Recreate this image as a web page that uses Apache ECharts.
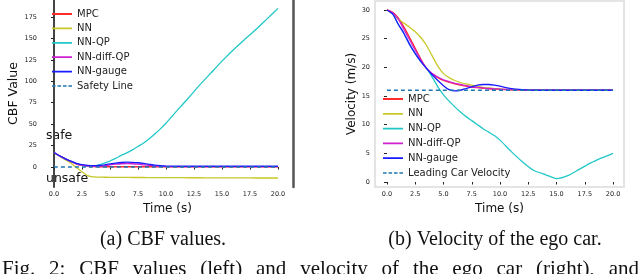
<!DOCTYPE html>
<html><head><meta charset="utf-8">
<script src="https://cdn.jsdelivr.net/npm/echarts@6/dist/echarts.min.js"></script>
<style>html,body{margin:0;padding:0;background:#fff}#c{width:640px;height:274px}</style>
</head><body><div id="c"></div>
<script>
const times = [0,0.5,1,1.5,2,2.5,3,3.5,4,4.5,5,5.5,6,6.5,7,7.5,8,8.5,9,9.5,10,11,12,13,14,15,16,17,18,19,20];
const xTicks = [0,2.5,5,7.5,10,12.5,15,17.5,20];
const cbfTicks = [0,25,50,75,100,125,150,175];
const velTicks = [0,5,10,15,20,25,30];

const cbfMPC   = [17,13,9.5,6.5,3.5,1.8,0.8,0.4,0.3,0.3,0.3,0.3,0.3,0.3,0.3,0.3,0.3,0.3,0.3,0.3,0.3,0.3,0.3,0.3,0.3,0.3,0.3,0.3,0.3,0.3,0.3];
const cbfNN    = [17,12.5,8.5,4.5,-0.5,-5.5,-10,-11.6,-11.8,-11.9,-12,-12,-12.1,-12.1,-12.2,-12.2,-12.2,-12.3,-12.3,-12.3,-12.4,-12.4,-12.5,-12.5,-12.6,-12.6,-12.7,-12.7,-12.8,-12.8,-12.8];
const cbfQP    = [17,13,9.5,6.5,4,2.2,1.2,1.2,2.5,4.5,7,10,13.5,16.5,20,24,28,33,38.5,44.5,51,66,80.5,95.5,109.5,123.5,136.5,148.5,160,172.5,185];
const cbfDiff  = [17,13,9.5,6.5,4,2.2,1.2,0.8,0.8,1.5,2.5,3.3,3.8,4,3.8,3.3,2.6,1.9,1.3,0.9,0.7,0.5,0.5,0.5,0.5,0.5,0.5,0.5,0.5,0.5,0.5];
const cbfGauge = [17,13.2,9.8,6.8,4.3,2.8,2,1.6,1.8,2.6,3.6,4.6,5.3,5.6,5.5,5,4.2,3.2,2.2,1.5,1.1,0.9,0.9,0.9,0.9,0.9,0.9,0.9,0.9,0.9,0.9];
const safetyT = [0,20];
const safetyV = [0,0];

const velMPC   = [30,29.6,28.6,27,25.2,23.3,21.4,19.8,18.8,18.2,17.7,17.4,17.1,16.9,16.7,16.55,16.45,16.35,16.25,16.2,16.15,16.05,16,16,16,16,16,16,16,16,16];
const velNN    = [30,29.3,28.4,27.7,27,26.2,25.2,23.8,22,20.2,18.9,18.2,17.7,17.35,17.1,16.9,16.7,16.5,16.4,16.3,16.2,16.1,16.05,16,16,16,16,16,16,16,16];
const velQP    = [30,29.3,27.5,25.9,24,22.4,21,19.8,18.3,16.6,15.2,14.1,13.1,12.2,11.4,10.7,10,9.3,8.7,8.1,7.3,5.3,3.5,2,1.3,0.6,1.1,2.2,3.3,4.2,5];
const velDiff  = [30,29.5,28.4,26.6,24.8,23,21.3,19.8,18.9,18.3,17.8,17.5,17.2,17,16.8,16.6,16.5,16.4,16.3,16.25,16.2,16.1,16.05,16,16,16,16,16,16,16,16];
const velGauge = [30,29.3,27.5,25.9,24,22.4,21,19.8,18.7,17.7,16.8,16.1,15.9,16,16.3,16.6,16.9,17,17,16.9,16.7,16.3,16.1,16,16,16,16,16,16,16,16];
const leadT = [0,20];
const leadV = [16,16];

const names = ['MPC','NN','NN-QP','NN-diff-QP','NN-gauge'];
const colors = ['#ff2a2a','#c8c828','#22c8c8','#d020d0','#1a1aff'];
const dashColor = '#1f77b4';
const F = 'DejaVu Sans';

const solidIcon = 'path://M0,0h0.05v0.05h-0.05z M0,4.1h20v1.8h-20z M19.95,9.95h0.05v0.05h-0.05z';
const dashIcon = 'path://M0,0h0.05v0.05h-0.05z M0,4.3h3.6v1.4h-3.6z M5.5,4.3h3.6v1.4h-3.6z M11,4.3h3.6v1.4h-3.6z M16.4,4.3h3.6v1.4h-3.6z M19.95,9.95h0.05v0.05h-0.05z';

function pairs(t, v){ return t.map((x,i)=>[x, v[i]]); }
function lineS(name, color, t, v, xi, yi, dashed){
  return {type:'line', name, xAxisIndex:xi, yAxisIndex:yi, data:pairs(t,v), symbol:'none', showSymbol:false,
    smooth:0.2, lineStyle:{color, width:1.3, type: dashed?[4,3]:'solid'}, itemStyle:{color}, animation:false};
}
const series = [];
[cbfMPC,cbfNN,cbfQP,cbfDiff,cbfGauge].forEach((v,i)=>series.push(lineS(names[i],colors[i],times,v,0,0)));
series.push(lineS('Safety Line',dashColor,safetyT,safetyV,0,0,true));
[velMPC,velNN,velQP,velDiff,velGauge].forEach((v,i)=>series.push(lineS(names[i],colors[i],times,v,1,2)));
series.push(lineS('Leading Car Velocity',dashColor,leadT,leadV,1,2,true));

const tickLbl = {fontSize:6.5, color:'#222', fontFamily:F};
const xLabel = (v)=>Number(v).toFixed(1);
const legendItems = (last)=>[...names.map(n=>({name:n, icon:solidIcon})), {name:last, icon:dashIcon}];

const serif = 'Liberation Serif';
const bottomText = 'Fig. 2: CBF values (left) and velocity of the ego car (right), and';
// justify the (cut-off) figure caption line across the page width
const bSize = 21;
const mctx = document.createElement('canvas').getContext('2d');
mctx.font = bSize + 'px "' + serif + '"';
const bWords = bottomText.split(' ');
const bWidths = bWords.map(w=>mctx.measureText(w).width);
const bL = 2, bR = 639;
const bGap = (bR - bL - bWidths.reduce((a,b)=>a+b,0)) / (bWords.length - 1);
let bx = bL;
const bottomGraphics = bWords.map((w,i)=>{ const g = {type:'text', x:bx, y:259, style:{text:w, fontSize:bSize, fontFamily:serif, fill:'#111', align:'left', verticalAlign:'top'}}; bx += bWidths[i] + bGap; return g; });

const chart = echarts.init(document.getElementById('c'), null, {renderer:'canvas'});
chart.setOption({
  animation:false,
  backgroundColor:'#fff',
  grid:[
    {left:42, top:0, width:251, height:187, show:false},
    {left:375, top:1, width:249, height:186, show:true, borderColor:'#e4e4e4', borderWidth:2, backgroundColor:'#fff'}
  ],
  xAxis:[
    {type:'value', gridIndex:0, min:-1.07, max:21.34, name:'Time (s)', nameLocation:'middle', nameGap:13,
     nameTextStyle:{fontSize:12, fontFamily:F, color:'#111'},
     axisLine:{show:false}, splitLine:{show:false},
     axisTick:{show:true, customValues:xTicks, length:2.5, lineStyle:{color:'#222', width:1}},
     axisLabel:{...tickLbl, customValues:xTicks, formatter:xLabel, margin:4}},
    {type:'value', gridIndex:1, min:-1.06, max:20.97, name:'Time (s)', nameLocation:'middle', nameGap:13,
     nameTextStyle:{fontSize:12, fontFamily:F, color:'#111'},
     axisLine:{show:false}, splitLine:{show:false},
     axisTick:{show:true, customValues:xTicks, length:2.5, lineStyle:{color:'#222', width:1}},
     axisLabel:{...tickLbl, customValues:xTicks, formatter:xLabel, margin:4}}
  ],
  yAxis:[
    {type:'value', gridIndex:0, min:-23.3, max:194.8, name:'CBF Value', nameLocation:'middle', nameGap:21,
     nameTextStyle:{fontSize:12.5, fontFamily:F, color:'#111'},
     axisLine:{show:true, lineStyle:{color:'#444', width:2}}, splitLine:{show:false},
     axisTick:{show:true, customValues:cbfTicks, length:3, lineStyle:{color:'#222', width:1}},
     axisLabel:{...tickLbl, customValues:cbfTicks, margin:5}},
    {type:'value', gridIndex:0, position:'right', min:-23.3, max:194.8,
     axisLine:{show:true, onZero:false, lineStyle:{color:'#555', width:2.5}}, splitLine:{show:false},
     axisTick:{show:false}, axisLabel:{show:false}},
    {type:'value', gridIndex:1, min:-0.87, max:31.56, name:'Velocity (m/s)', nameLocation:'middle', nameGap:16,
     nameTextStyle:{fontSize:12, fontFamily:F, color:'#111'},
     axisLine:{show:false}, splitLine:{show:false},
     axisTick:{show:true, customValues:velTicks, length:3, lineStyle:{color:'#222', width:1}},
     axisLabel:{...tickLbl, customValues:velTicks, margin:5}}
  ],
  legend:[
    {id:'legL', data:legendItems('Safety Line'), orient:'vertical', left:52, top:9, itemWidth:20, itemHeight:10, itemGap:4.4,
     padding:0, textStyle:{fontSize:10, fontFamily:F, color:'#222'}, selectedMode:false},
    {id:'legR', data:legendItems('Leading Car Velocity'), orient:'vertical', left:383, top:94, itemWidth:20, itemHeight:10, itemGap:4.8,
     padding:0, textStyle:{fontSize:10, fontFamily:F, color:'#222'}, selectedMode:false}
  ],
  graphic:[
    {type:'text', left:46, top:129, style:{text:'safe', fontSize:12.5, fontFamily:F, fill:'#111'}},
    {type:'text', left:46, top:172, style:{text:'unsafe', fontSize:12.5, fontFamily:F, fill:'#111'}},
    {type:'text', x:163, y:240, style:{text:'(a) CBF values.', fontSize:20, fontFamily:serif, fill:'#111', align:'center', verticalAlign:'middle'}},
    {type:'text', x:495, y:240, style:{text:'(b) Velocity of the ego car.', fontSize:20, fontFamily:serif, fill:'#111', align:'center', verticalAlign:'middle'}},
    ...bottomGraphics
  ],
  series
});
</script></body></html>
